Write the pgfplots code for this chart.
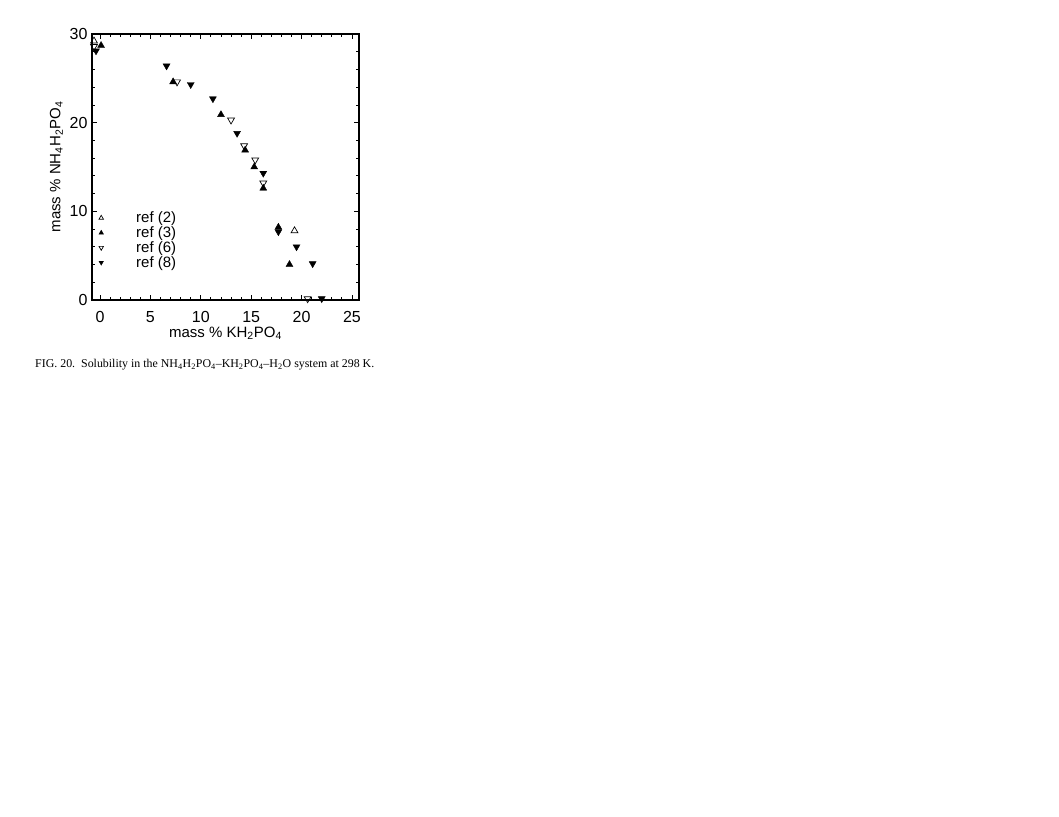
\documentclass[border=0pt]{standalone}
\usepackage{pgfplots}
\pgfplotsset{compat=1.18}
\usepackage{fontspec}
\setmainfont{Liberation Sans}
\newfontfamily\capfont[Ligatures=TeX]{Liberation Serif}
\begin{document}
\begin{tikzpicture}[x=1pt,y=1pt]
\fill[white] (0,0) rectangle (1059,816);
\useasboundingbox (0,0) rectangle (1059,816);
\begin{axis}[
  at={(92pt,516pt)}, anchor=south west,
  scale only axis, width=267pt, height=266pt,
  xmin=-0.8, xmax=25.7, ymin=0, ymax=30,
  xtick={0,5,10,15,20,25}, minor xtick={1,2,3,4,6,7,8,9,11,12,13,14,16,17,18,19,21,22,23,24,25},
  ytick={0,10,20,30}, minor ytick={2,4,6,8,12,14,16,18,22,24,26,28},
  tick align=inside, major tick length=5pt, minor tick length=3pt,
  axis line style={line width=1.2pt}, tick style={line width=0.8pt, black},
  every tick label/.append style={font=\fontsize{16}{18}\selectfont},
  /pgf/number format/assume math mode=true,
  xticklabel style={yshift=-8pt},
  yticklabel style={xshift=-1pt},
  xlabel={mass \% KH\textsubscript{2}PO\textsubscript{4}},
  ylabel={mass \% NH\textsubscript{4}H\textsubscript{2}PO\textsubscript{4}},
  label style={font=\fontsize{15}{17}\selectfont},
  xlabel style={yshift=3pt},
  ylabel style={yshift=0pt},
  clip=false,
  legend style={at={(axis cs:-0.3,10.2)}, anchor=north west, draw=none, fill=none,
    font=\fontsize{15}{16}\selectfont, row sep=-1.5pt, inner sep=0pt},
  legend cell align=left,
  legend image code/.code={\draw[#1,only marks,mark size=2.6pt] plot coordinates {(0pt,0pt)}; \path[draw=none,fill=none] (-4pt,0pt) rectangle (33pt,0pt);},
]
\addplot[only marks, mark=triangle, mark size=4pt, black, line width=0.7pt] coordinates {
(-0.6,29.2) (19.3,7.8)
};
\addlegendentry{ref\ (2)}
\addplot[only marks, mark=triangle*, mark size=4pt, black] coordinates {
(0.1,28.7) (7.25,24.6) (12.0,20.9) (14.4,16.9) (15.3,15.0) (16.2,12.6) (17.7,8.2) (18.8,4.0)
};
\addlegendentry{ref\ (3)}
\addplot[only marks, mark=triangle, mark size=4pt, black, line width=0.7pt, mark options={rotate=180}] coordinates {
(-0.6,28.6) (7.64,24.6) (13.0,20.3) (14.3,17.4) (15.4,15.8) (16.2,13.2) (20.6,0.15)
};
\addlegendentry{ref\ (6)}
\addplot[only marks, mark=triangle*, mark size=4pt, black, mark options={rotate=180}] coordinates {
(-0.4,28.1) (6.6,26.4) (9.0,24.3) (11.2,22.7) (13.6,18.8) (16.2,14.3) (17.7,7.7) (19.5,6.0) (21.1,4.1) (22.0,0.15)
};
\addlegendentry{ref\ (8)}
\end{axis}
\node[anchor=base west, font=\capfont\fontsize{11.9}{13}\selectfont, inner sep=0pt] at (35,448)
  {FIG. 20.\ \ Solubility in the NH\textsubscript{4}H\textsubscript{2}PO\textsubscript{4}–KH\textsubscript{2}PO\textsubscript{4}–H\textsubscript{2}O system at 298 K.};
\end{tikzpicture}
\end{document}
